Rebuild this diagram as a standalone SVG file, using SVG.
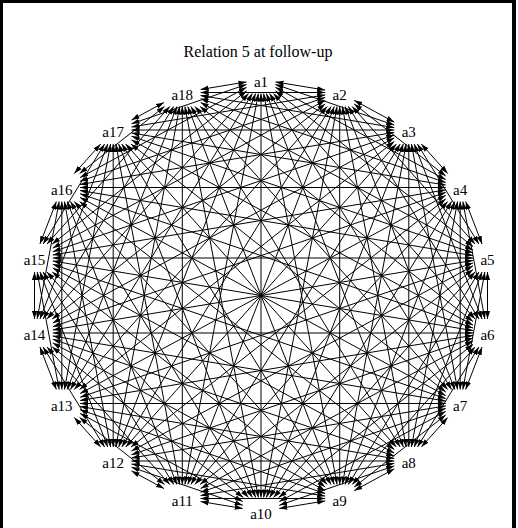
<svg xmlns="http://www.w3.org/2000/svg" width="518" height="528" viewBox="0 0 518 528">
<style>
.e line{stroke:#000;stroke-width:1;fill:none;marker-start:url(#ah);marker-end:url(#ah)}
.lbl{font-family:"Liberation Serif","Times New Roman",serif;font-size:15px;text-anchor:middle;fill:#000}
.title{font-family:"Liberation Serif","Times New Roman",serif;font-size:16px;text-anchor:middle;fill:#000}
</style>
<defs>
<marker id="ah" markerUnits="userSpaceOnUse" viewBox="0 0 8 6" markerWidth="8" markerHeight="6" refX="8" refY="3" orient="auto-start-reverse">
<path d="M0,0.4 L8,3 L0,5.6 z" fill="#000"/>
</marker>
</defs>
<rect x="0" y="0" width="518" height="528" fill="#fff"/>
<rect x="0" y="0" width="3" height="528" fill="#000"/>
<rect x="0" y="0" width="516" height="3" fill="#000"/>
<rect x="512" y="0" width="4" height="528" fill="#000"/>
<text class="title" x="258" y="57">Relation 5 at follow-up</text>
<g id="edges" class="e">
<line x1="275.5" y1="81.9" x2="325.2" y2="90.1"/>
<line x1="275.5" y1="84.45" x2="394.3" y2="125.05"/>
<line x1="275.5" y1="87.36" x2="445.7" y2="179.64"/>
<line x1="275.5" y1="90.93" x2="473" y2="246.57"/>
<line x1="273.51" y1="93.5" x2="474.99" y2="319"/>
<line x1="269.61" y1="93.5" x2="451.59" y2="389.5"/>
<line x1="266.42" y1="93.5" x2="403.38" y2="447"/>
<line x1="263.63" y1="93.5" x2="337.07" y2="484.5"/>
<line x1="261" y1="93.5" x2="261" y2="497.5"/>
<line x1="258.37" y1="93.5" x2="184.93" y2="484.5"/>
<line x1="255.58" y1="93.5" x2="118.62" y2="447"/>
<line x1="252.39" y1="93.5" x2="70.41" y2="389.5"/>
<line x1="248.49" y1="93.5" x2="47.01" y2="319"/>
<line x1="246.5" y1="90.93" x2="52.26" y2="244"/>
<line x1="246.5" y1="87.36" x2="80.1" y2="177.58"/>
<line x1="246.5" y1="84.45" x2="131.5" y2="123.75"/>
<line x1="246.5" y1="81.9" x2="200.6" y2="89.48"/>
<line x1="354.2" y1="100.37" x2="394.3" y2="122.13"/>
<line x1="354.2" y1="103.93" x2="445.7" y2="176.07"/>
<line x1="352.2" y1="106.5" x2="475" y2="244"/>
<line x1="348.3" y1="106.5" x2="478.9" y2="319"/>
<line x1="345.12" y1="106.5" x2="454.78" y2="389.5"/>
<line x1="342.33" y1="106.5" x2="406.17" y2="447"/>
<line x1="339.7" y1="106.5" x2="339.7" y2="484.5"/>
<line x1="337.07" y1="106.5" x2="263.63" y2="497.5"/>
<line x1="334.27" y1="106.5" x2="187.73" y2="484.5"/>
<line x1="331.09" y1="106.5" x2="121.81" y2="447"/>
<line x1="327.19" y1="106.5" x2="74.31" y2="389.5"/>
<line x1="325.2" y1="103.93" x2="52.27" y2="319"/>
<line x1="325.2" y1="100.36" x2="52.8" y2="248.08"/>
<line x1="325.2" y1="97.46" x2="80.1" y2="181.24"/>
<line x1="325.2" y1="94.9" x2="131.5" y2="126.97"/>
<line x1="325.2" y1="92.5" x2="200.6" y2="92.5"/>
<line x1="421.31" y1="144" x2="447.69" y2="173.5"/>
<line x1="417.41" y1="144" x2="478.89" y2="244"/>
<line x1="414.23" y1="144" x2="482.07" y2="319"/>
<line x1="411.43" y1="144" x2="457.57" y2="389.5"/>
<line x1="408.8" y1="144" x2="408.8" y2="447"/>
<line x1="406.17" y1="144" x2="342.33" y2="484.5"/>
<line x1="403.38" y1="144" x2="266.42" y2="497.5"/>
<line x1="400.19" y1="144" x2="190.91" y2="484.5"/>
<line x1="396.3" y1="144" x2="125.7" y2="447"/>
<line x1="394.3" y1="141.43" x2="79.56" y2="389.5"/>
<line x1="394.3" y1="137.86" x2="52.8" y2="323.08"/>
<line x1="394.3" y1="134.96" x2="52.8" y2="251.74"/>
<line x1="394.3" y1="132.4" x2="80.1" y2="184.47"/>
<line x1="394.3" y1="130" x2="131.5" y2="130"/>
<line x1="394.3" y1="127.6" x2="200.6" y2="95.53"/>
<line x1="465.62" y1="201.5" x2="482.08" y2="244"/>
<line x1="462.83" y1="201.5" x2="484.87" y2="319"/>
<line x1="460.2" y1="201.5" x2="460.2" y2="389.5"/>
<line x1="457.57" y1="201.5" x2="411.43" y2="447"/>
<line x1="454.78" y1="201.5" x2="345.12" y2="484.5"/>
<line x1="451.59" y1="201.5" x2="269.61" y2="497.5"/>
<line x1="447.69" y1="201.5" x2="194.81" y2="484.5"/>
<line x1="445.7" y1="198.93" x2="130.96" y2="447"/>
<line x1="445.7" y1="195.36" x2="80.1" y2="393.58"/>
<line x1="445.7" y1="192.46" x2="52.8" y2="326.75"/>
<line x1="445.7" y1="189.9" x2="52.8" y2="254.97"/>
<line x1="445.7" y1="187.5" x2="80.1" y2="187.5"/>
<line x1="445.7" y1="185.1" x2="131.5" y2="133.03"/>
<line x1="445.7" y1="182.54" x2="200.6" y2="98.76"/>
<line x1="487.5" y1="272" x2="487.5" y2="319"/>
<line x1="484.87" y1="272" x2="462.83" y2="389.5"/>
<line x1="482.07" y1="272" x2="414.23" y2="447"/>
<line x1="478.9" y1="272" x2="348.3" y2="484.5"/>
<line x1="474.99" y1="272" x2="273.51" y2="497.5"/>
<line x1="473" y1="269.43" x2="200.07" y2="484.5"/>
<line x1="473" y1="265.86" x2="131.5" y2="451.08"/>
<line x1="473" y1="262.96" x2="80.1" y2="397.25"/>
<line x1="473" y1="260.4" x2="52.8" y2="329.97"/>
<line x1="473" y1="258" x2="52.8" y2="258"/>
<line x1="473" y1="255.6" x2="80.1" y2="190.53"/>
<line x1="473" y1="253.04" x2="131.5" y2="136.26"/>
<line x1="473" y1="250.14" x2="200.6" y2="102.42"/>
<line x1="482.08" y1="347" x2="465.62" y2="389.5"/>
<line x1="478.89" y1="347" x2="417.41" y2="447"/>
<line x1="475" y1="347" x2="352.2" y2="484.5"/>
<line x1="473" y1="344.43" x2="278.76" y2="497.5"/>
<line x1="473" y1="340.86" x2="200.6" y2="488.58"/>
<line x1="473" y1="337.96" x2="131.5" y2="454.74"/>
<line x1="473" y1="335.4" x2="80.1" y2="400.47"/>
<line x1="473" y1="333" x2="52.8" y2="333"/>
<line x1="473" y1="330.6" x2="52.8" y2="261.03"/>
<line x1="473" y1="328.04" x2="80.1" y2="193.75"/>
<line x1="473" y1="325.14" x2="131.5" y2="139.92"/>
<line x1="473" y1="321.57" x2="200.07" y2="106.5"/>
<line x1="447.69" y1="417.5" x2="421.31" y2="447"/>
<line x1="445.7" y1="414.93" x2="354.2" y2="487.07"/>
<line x1="445.7" y1="411.36" x2="279.3" y2="501.58"/>
<line x1="445.7" y1="408.46" x2="200.6" y2="492.24"/>
<line x1="445.7" y1="405.9" x2="131.5" y2="457.97"/>
<line x1="445.7" y1="403.5" x2="80.1" y2="403.5"/>
<line x1="445.7" y1="401.1" x2="52.8" y2="336.03"/>
<line x1="445.7" y1="398.54" x2="52.8" y2="264.25"/>
<line x1="445.7" y1="395.64" x2="80.1" y2="197.42"/>
<line x1="445.7" y1="392.07" x2="130.96" y2="144"/>
<line x1="447.69" y1="389.5" x2="194.81" y2="106.5"/>
<line x1="394.3" y1="468.87" x2="354.2" y2="490.63"/>
<line x1="394.3" y1="465.95" x2="279.3" y2="505.25"/>
<line x1="394.3" y1="463.4" x2="200.6" y2="495.47"/>
<line x1="394.3" y1="461" x2="131.5" y2="461"/>
<line x1="394.3" y1="458.6" x2="80.1" y2="406.53"/>
<line x1="394.3" y1="456.04" x2="52.8" y2="339.26"/>
<line x1="394.3" y1="453.14" x2="52.8" y2="267.92"/>
<line x1="394.3" y1="449.57" x2="79.56" y2="201.5"/>
<line x1="396.3" y1="447" x2="125.7" y2="144"/>
<line x1="400.19" y1="447" x2="190.91" y2="106.5"/>
<line x1="325.2" y1="500.9" x2="279.3" y2="508.48"/>
<line x1="325.2" y1="498.5" x2="200.6" y2="498.5"/>
<line x1="325.2" y1="496.1" x2="131.5" y2="464.03"/>
<line x1="325.2" y1="493.54" x2="80.1" y2="409.76"/>
<line x1="325.2" y1="490.64" x2="52.8" y2="342.92"/>
<line x1="325.2" y1="487.07" x2="52.27" y2="272"/>
<line x1="327.19" y1="484.5" x2="74.31" y2="201.5"/>
<line x1="331.09" y1="484.5" x2="121.81" y2="144"/>
<line x1="334.27" y1="484.5" x2="187.73" y2="106.5"/>
<line x1="242.7" y1="508.48" x2="200.6" y2="501.52"/>
<line x1="242.7" y1="505.25" x2="131.5" y2="467.25"/>
<line x1="242.7" y1="501.58" x2="80.1" y2="413.42"/>
<line x1="243.24" y1="497.5" x2="52.26" y2="347"/>
<line x1="248.49" y1="497.5" x2="47.01" y2="272"/>
<line x1="252.39" y1="497.5" x2="70.41" y2="201.5"/>
<line x1="255.58" y1="497.5" x2="118.62" y2="144"/>
<line x1="258.37" y1="497.5" x2="184.93" y2="106.5"/>
<line x1="164" y1="488.57" x2="131.5" y2="470.93"/>
<line x1="164.54" y1="484.5" x2="79.56" y2="417.5"/>
<line x1="169.8" y1="484.5" x2="47" y2="347"/>
<line x1="173.7" y1="484.5" x2="43.1" y2="272"/>
<line x1="176.88" y1="484.5" x2="67.22" y2="201.5"/>
<line x1="179.67" y1="484.5" x2="115.83" y2="144"/>
<line x1="182.3" y1="484.5" x2="182.3" y2="106.5"/>
<line x1="100.69" y1="447" x2="74.31" y2="417.5"/>
<line x1="104.59" y1="447" x2="43.11" y2="347"/>
<line x1="107.77" y1="447" x2="39.93" y2="272"/>
<line x1="110.57" y1="447" x2="64.43" y2="201.5"/>
<line x1="113.2" y1="447" x2="113.2" y2="144"/>
<line x1="115.83" y1="447" x2="179.67" y2="106.5"/>
<line x1="56.38" y1="389.5" x2="39.92" y2="347"/>
<line x1="59.17" y1="389.5" x2="37.13" y2="272"/>
<line x1="61.8" y1="389.5" x2="61.8" y2="201.5"/>
<line x1="64.43" y1="389.5" x2="110.57" y2="144"/>
<line x1="67.22" y1="389.5" x2="176.88" y2="106.5"/>
<line x1="34.5" y1="319" x2="34.5" y2="272"/>
<line x1="37.13" y1="319" x2="59.17" y2="201.5"/>
<line x1="39.93" y1="319" x2="107.77" y2="144"/>
<line x1="43.1" y1="319" x2="173.7" y2="106.5"/>
<line x1="39.92" y1="244" x2="56.38" y2="201.5"/>
<line x1="43.11" y1="244" x2="104.59" y2="144"/>
<line x1="47" y1="244" x2="169.8" y2="106.5"/>
<line x1="74.31" y1="173.5" x2="100.69" y2="144"/>
<line x1="79.56" y1="173.5" x2="164.54" y2="106.5"/>
<line x1="131.5" y1="120.07" x2="164" y2="102.43"/>
</g>
<g id="a1"><text class="lbl" x="261" y="86.5">a1</text></g>
<g id="a2"><text class="lbl" x="339.7" y="99.5">a2</text></g>
<g id="a3"><text class="lbl" x="408.8" y="137">a3</text></g>
<g id="a4"><text class="lbl" x="460.2" y="194.5">a4</text></g>
<g id="a5"><text class="lbl" x="487.5" y="265">a5</text></g>
<g id="a6"><text class="lbl" x="487.5" y="340">a6</text></g>
<g id="a7"><text class="lbl" x="460.2" y="410.5">a7</text></g>
<g id="a8"><text class="lbl" x="408.8" y="468">a8</text></g>
<g id="a9"><text class="lbl" x="339.7" y="505.5">a9</text></g>
<g id="a10"><text class="lbl" x="261" y="518.5">a10</text></g>
<g id="a11"><text class="lbl" x="182.3" y="505.5">a11</text></g>
<g id="a12"><text class="lbl" x="113.2" y="468">a12</text></g>
<g id="a13"><text class="lbl" x="61.8" y="410.5">a13</text></g>
<g id="a14"><text class="lbl" x="34.5" y="340">a14</text></g>
<g id="a15"><text class="lbl" x="34.5" y="265">a15</text></g>
<g id="a16"><text class="lbl" x="61.8" y="194.5">a16</text></g>
<g id="a17"><text class="lbl" x="113.2" y="137">a17</text></g>
<g id="a18"><text class="lbl" x="182.3" y="99.5">a18</text></g>
</svg>
